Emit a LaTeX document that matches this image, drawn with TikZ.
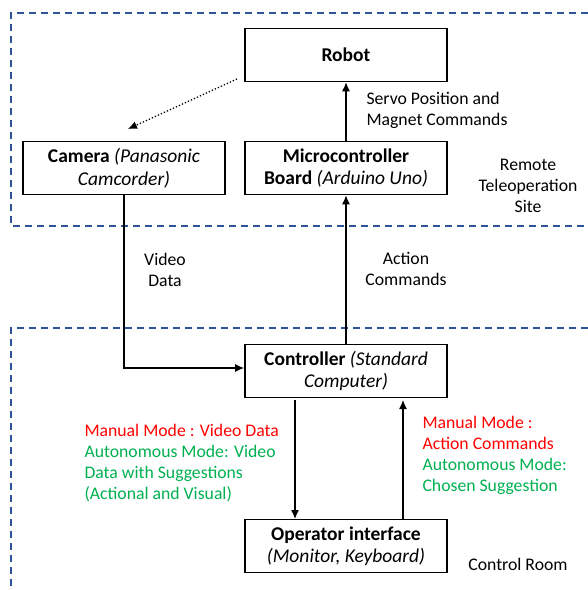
\documentclass[tikz,border=0pt]{standalone}
\usepackage{fontspec}
\setmainfont{Carlito}
\usetikzlibrary{arrows.meta}
\definecolor{dashblue}{RGB}{47,84,150}
\definecolor{redtxt}{RGB}{255,0,0}
\definecolor{greentxt}{RGB}{0,176,80}
\begin{document}
\begin{tikzpicture}[x=1pt,y=-1pt,
  box/.style={draw,line width=1.6pt,minimum width=202pt,minimum height=53pt,align=center,inner sep=1pt,font=\fontsize{19.5}{22.5}\selectfont},
  lbl/.style={align=center,font=\fontsize{17.7}{21}\selectfont},
  lbll/.style={align=left,font=\fontsize{17.7}{21}\selectfont},
  arr/.style={-{Latex[length=9pt,width=8pt]},line width=1.3pt},
  region/.style={dashblue,line width=1.3pt,dash pattern=on 7pt off 5pt}]
\useasboundingbox (0,0) rectangle (588,590);
\clip (0,0) rectangle (588,590);
% regions
\draw[region] (600,13) -- (11,13) -- (11,226) -- (600,226);
\draw[region] (600,328) -- (11,328) -- (11,600);
% boxes
\node[box] (robot) at (346,55) {\textbf{Robot}};
\node[box] (camera) at (124,168) {\textbf{Camera} \textit{(Panasonic}\\\textit{Camcorder)}};
\node[box] (micro) at (346,168) {\textbf{Microcontroller}\\\textbf{Board} \textit{(Arduino Uno)}};
\node[box] (ctrl) at (346,371) {\textbf{Controller} \textit{(Standard}\\\textit{Computer)}};
\node[box] (oper) at (346,546) {\textbf{Operator interface}\\\textit{(Monitor, Keyboard)}};
% connectors
\coordinate (dotstart) at (237,79);
\coordinate (dotend) at (128,129);
\draw[-{Latex[length=9pt,width=8pt]},line width=1.3pt,dotted] (dotstart) -- (dotend);
\draw[arr] (micro.north) -- (robot.south);
\draw[arr] (ctrl.north) -- (micro.south);
\coordinate (corner) at (camera.south |- 0,368);
\draw[arr] (camera.south) -- (corner) -- (ctrl.west |- corner);
\draw[arr] (295,400) -- (295,519);
\draw[arr] (403,519) -- (403,400);
% labels
\node[lbll,anchor=west] (servo) at (363,110) {Servo Position and\\Magnet Commands};
\node[lbl] (remote) at (528,186) {Remote\\Teleoperation\\Site};
\node[lbl] (video) at (165,270) {Video\\Data};
\node[lbl] (action) at (406,269) {Action\\Commands};
\node[lbll,anchor=north west] (leftlbl) at (81,421) {\textcolor{redtxt}{Manual Mode : Video Data}\\\textcolor{greentxt}{Autonomous Mode: Video}\\\textcolor{greentxt}{Data with Suggestions}\\\textcolor{greentxt}{(Actional and Visual)}};
\node[lbll,anchor=north west] (rightlbl) at (419,413) {\textcolor{redtxt}{Manual Mode :}\\\textcolor{redtxt}{Action Commands}\\\textcolor{greentxt}{Autonomous Mode:}\\\textcolor{greentxt}{Chosen Suggestion}};
\node[lbl] (room) at (518,564) {Control Room};
\end{tikzpicture}
\end{document}
